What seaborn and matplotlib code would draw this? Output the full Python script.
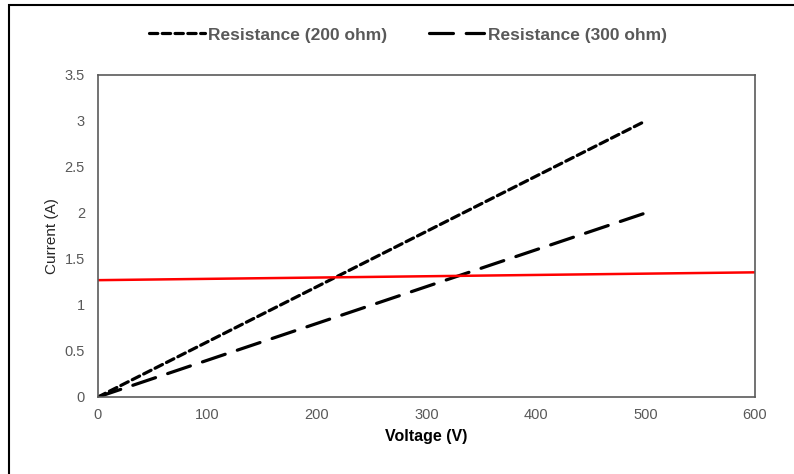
import matplotlib
matplotlib.use("Agg")
import matplotlib.pyplot as plt
import seaborn as sns
import pandas as pd
from matplotlib.patches import Rectangle

# data
voltage = [0, 100, 200, 300, 400, 500]
current_200 = [0, 0.6, 1.2, 1.8, 2.4, 3.0]
current_300 = [0, 0.4, 0.8, 1.2, 1.6, 2.0]
red_x = [0, 600]
red_y = [1.27, 1.355]

sns.set_theme(style="white")
plt.rcParams['font.family'] = ['Liberation Sans', 'DejaVu Sans']

fig = plt.figure(figsize=(7.94, 4.74), dpi=100)
ax = fig.add_axes([98 / 794, 1 - 397 / 474, (755 - 98) / 794, (397 - 75) / 474])

df200 = pd.DataFrame({'V': voltage, 'I': current_200})
df300 = pd.DataFrame({'V': voltage, 'I': current_300})
dfred = pd.DataFrame({'V': red_x, 'I': red_y})

sns.lineplot(data=df200, x='V', y='I', ax=ax, color='black', lw=2.3,
             label='Resistance (200 ohm)')
sns.lineplot(data=df300, x='V', y='I', ax=ax, color='black', lw=2.3,
             label='Resistance (300 ohm)')
sns.lineplot(data=dfred, x='V', y='I', ax=ax, color='#ff0000', lw=1.8)

lines = ax.get_lines()
lines[0].set_dashes([2.6, 1.4])
lines[1].set_dashes([7.5, 4])
for ln in lines[:2]:
    ln.set_dash_capstyle('round')

ax.set_xlim(0, 600)
ax.set_ylim(0, 3.5)
ax.set_xticks(range(0, 601, 100))
ax.set_yticks([0, 0.5, 1, 1.5, 2, 2.5, 3, 3.5])
ax.set_yticklabels(['0', '0.5', '1', '1.5', '2', '2.5', '3', '3.5'])
ax.tick_params(axis='both', length=0, labelsize=10.5, labelcolor='#595959')
ax.tick_params(axis='y', pad=9.4)
ax.tick_params(axis='x', pad=8)
for s in ax.spines.values():
    s.set_color('#5a5a5a')
    s.set_linewidth(1.2)

ax.set_xlabel('Voltage (V)', fontsize=11.5, fontweight='bold', color='black', labelpad=5)
ax.set_ylabel('Current (A)', fontsize=11, color='#262626', labelpad=4)

leg = ax.legend(loc='center', bbox_to_anchor=(408 / 794, 1 - 35 / 474), bbox_transform=fig.transFigure,
                ncol=2, frameon=False, fontsize=12.5, handlelength=3.2, handletextpad=0.2,
                columnspacing=2.4)
for t in leg.get_texts():
    t.set_color('#595959')
    t.set_fontweight('bold')

# outer border (extends past the bottom/right edges in the reference)
fig.patches.append(Rectangle((9 / 794, -0.05), 1.2, 1 - 5 / 474 + 0.05, transform=fig.transFigure,
                             fill=False, edgecolor='black', lw=1.5, zorder=0))

plt.savefig("out.png", dpi=100)
